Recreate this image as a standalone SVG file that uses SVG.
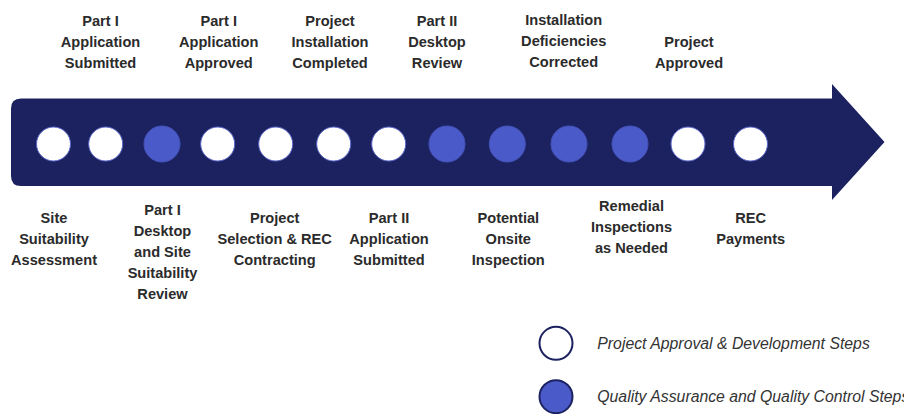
<svg xmlns="http://www.w3.org/2000/svg" width="904" height="414" viewBox="0 0 904 414">
<style>
.lbl{font-family:"Liberation Sans",Arial,sans-serif;font-weight:bold;font-size:14.6px;fill:#2b2b2b;text-anchor:middle}
.leg{font-family:"Liberation Sans",Arial,sans-serif;font-style:italic;font-size:15.8px;fill:#333333}
.w{fill:#ffffff;stroke:#5a66c8;stroke-width:1}
.b{fill:#4a5bc9;stroke:#4452b8;stroke-width:1}
</style>
<rect width="904" height="414" fill="#ffffff"/>
<g id="connectors">
<path d="M21,98.5 L832,98.5 L832,84 L884.5,142 L832,200 L832,186 L21,186 Q11,186 11,176 L11,108.5 Q11,98.5 21,98.5 Z" fill="#1c2260"/>
</g>
<g id="n1"><circle class="w" cx="53.5" cy="144" r="17"/><text class="lbl" x="54" y="223">Site</text><text class="lbl" x="54" y="244">Suitability</text><text class="lbl" x="54" y="265">Assessment</text></g>
<g id="n2"><circle class="w" cx="105.7" cy="144" r="17"/><text class="lbl" x="100.5" y="26">Part I</text><text class="lbl" x="100.5" y="47">Application</text><text class="lbl" x="100.5" y="68">Submitted</text></g>
<g id="n3"><circle class="b" cx="162" cy="144" r="18"/><text class="lbl" x="162.5" y="215">Part I</text><text class="lbl" x="162.5" y="236">Desktop</text><text class="lbl" x="162.5" y="257">and Site</text><text class="lbl" x="162.5" y="278">Suitability</text><text class="lbl" x="162.5" y="299">Review</text></g>
<g id="n4"><circle class="w" cx="217.7" cy="144" r="17"/><text class="lbl" x="218.7" y="26">Part I</text><text class="lbl" x="218.7" y="47">Application</text><text class="lbl" x="218.7" y="68">Approved</text></g>
<g id="n5"><circle class="w" cx="275.7" cy="144" r="17"/><text class="lbl" x="274.7" y="223">Project</text><text class="lbl" x="274.7" y="244">Selection &amp; REC</text><text class="lbl" x="274.7" y="265">Contracting</text></g>
<g id="n6"><circle class="w" cx="333.7" cy="144" r="17"/><text class="lbl" x="330" y="26">Project</text><text class="lbl" x="330" y="47">Installation</text><text class="lbl" x="330" y="68">Completed</text></g>
<g id="n7"><circle class="w" cx="388.7" cy="144" r="17"/><text class="lbl" x="389" y="223">Part II</text><text class="lbl" x="389" y="244">Application</text><text class="lbl" x="389" y="265">Submitted</text></g>
<g id="n8"><circle class="b" cx="447" cy="144" r="18"/><text class="lbl" x="437" y="26">Part II</text><text class="lbl" x="437" y="47">Desktop</text><text class="lbl" x="437" y="68">Review</text></g>
<g id="n9"><circle class="b" cx="507.3" cy="144" r="18"/><text class="lbl" x="508.3" y="223">Potential</text><text class="lbl" x="508.3" y="244">Onsite</text><text class="lbl" x="508.3" y="265">Inspection</text></g>
<g id="n10"><circle class="b" cx="569" cy="144" r="18"/><text class="lbl" x="563.7" y="25">Installation</text><text class="lbl" x="563.7" y="46">Deficiencies</text><text class="lbl" x="563.7" y="67">Corrected</text></g>
<g id="n11"><circle class="b" cx="630" cy="144" r="18"/><text class="lbl" x="631.5" y="211">Remedial</text><text class="lbl" x="631.5" y="232">Inspections</text><text class="lbl" x="631.5" y="253">as Needed</text></g>
<g id="n12"><circle class="w" cx="688" cy="144" r="17"/><text class="lbl" x="689" y="47">Project</text><text class="lbl" x="689" y="68">Approved</text></g>
<g id="n13"><circle class="w" cx="750.5" cy="144" r="17"/><text class="lbl" x="750.7" y="223">REC</text><text class="lbl" x="750.7" y="244">Payments</text></g>
<g id="legend">
<circle cx="556" cy="343.3" r="16.5" fill="#ffffff" stroke="#1c2260" stroke-width="2"/>
<text class="leg" x="597.3" y="348.5">Project Approval &amp; Development Steps</text>
<circle cx="556" cy="396.7" r="16.5" fill="#4a5bc9" stroke="#1c2260" stroke-width="2"/>
<text class="leg" x="597.3" y="401.5">Quality Assurance and Quality Control Steps</text>
</g>
</svg>
